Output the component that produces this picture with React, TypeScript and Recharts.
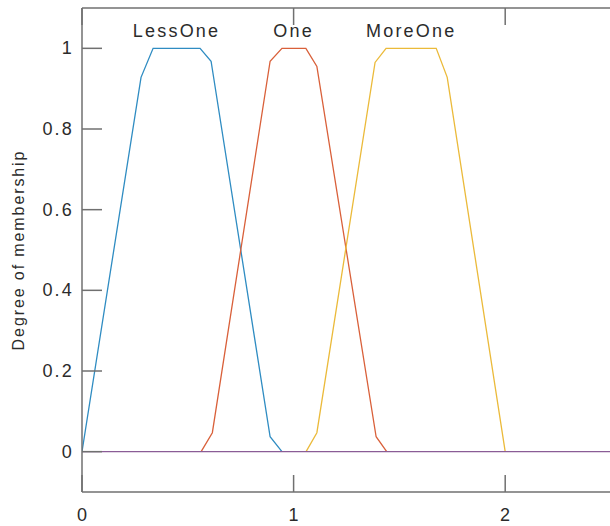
import React from 'react';
import { LineChart, Line, XAxis, YAxis, ReferenceDot } from 'recharts';

// membership function break points (x, degree)
const lessOneX = [0, 0.279, 0.336, 0.558, 0.61, 0.889, 0.945];
const lessOneY = [0, 0.928, 1, 1, 0.968, 0.037, 0];

const oneX = [0.563, 0.616, 0.889, 0.945, 1.058, 1.11, 1.39, 1.44];
const oneY = [0, 0.047, 0.968, 1, 1, 0.955, 0.037, 0];

const moreOneX = [1.059, 1.11, 1.385, 1.437, 1.674, 1.726, 2.0];
const moreOneY = [0, 0.047, 0.965, 1, 1, 0.928, 0];

const zeroX = [0, 2.5];
const zeroY = [0, 0];

const mfNames = ['LessOne', 'One', 'MoreOne'];
const mfPeakX = [0.447, 1.0, 1.556];
const mfLabelY = 1.044;

const xTicks = [0, 1, 2];
const yTicks = [0, 0.2, 0.4, 0.6, 0.8, 1];

const AXIS = '#707070';
const TEXT = '#2b2b2b';
const FONT = '"Liberation Sans", Arial, sans-serif';

const toPoints = (xs: number[], ys: number[]) => xs.map((x, i) => ({ x, y: ys[i] }));

const series = [
  { name: 'LessOne', data: toPoints(lessOneX, lessOneY), color: '#2f8cc2' },
  { name: 'One', data: toPoints(oneX, oneY), color: '#d9603a' },
  { name: 'MoreOne', data: toPoints(moreOneX, moreOneY), color: '#ebba3a' },
  { name: 'zero', data: toPoints(zeroX, zeroY), color: '#8a5c96' },
];

function BottomTick({ x, y, payload }: any) {
  return (
    <g>
      <line x1={x} y1={y} x2={x} y2={y - 17} stroke={AXIS} strokeWidth={1.5} />
      <text x={x + 1} y={y + 29} textAnchor="middle" fontSize={18} fontFamily={FONT} fill={TEXT} letterSpacing={2.2}>
        {payload.value}
      </text>
    </g>
  );
}

function TopTick({ x, y }: any) {
  return <line x1={x} y1={y} x2={x} y2={y + 17} stroke={AXIS} strokeWidth={1.5} />;
}

function LeftTick({ x, y, payload }: any) {
  return (
    <g>
      <line x1={x} y1={y} x2={x + 20} y2={y} stroke={AXIS} strokeWidth={1.5} />
      <text x={x - 8} y={y + 6} textAnchor="end" fontSize={18} fontFamily={FONT} fill={TEXT} letterSpacing={2.2}>
        {payload.value}
      </text>
    </g>
  );
}

function YTitle({ viewBox }: any) {
  const cx = 23.5;
  const cy = viewBox.y + viewBox.height / 2;
  return (
    <text
      x={cx}
      y={cy}
      transform={`rotate(-90, ${cx}, ${cy})`}
      textAnchor="middle"
      fontSize={16}
      fontFamily={FONT}
      fill={TEXT}
      letterSpacing={1.9}
    >
      Degree of membership
    </text>
  );
}

const mfLabel = (text: string) => ({ viewBox }: any) => (
  <text x={viewBox.x} y={viewBox.y + 6} textAnchor="middle" fontSize={18} fontFamily={FONT} fill={TEXT} letterSpacing={2.2}>
    {text}
  </text>
);

export default function App() {
  return (
    <div style={{ position: 'fixed', left: 0, top: 0, width: 610, height: 526, overflow: 'hidden', background: '#fff' }}>
      <LineChart width={620} height={526} margin={{ top: 7, right: 9, left: 0, bottom: 0 }}>
        <XAxis
          dataKey="x"
          type="number"
          domain={[0, 2.5]}
          ticks={xTicks}
          height={34}
          tickSize={0}
          tickMargin={0}
          tickLine={false}
          axisLine={{ stroke: AXIS, strokeWidth: 1.5 }}
          tick={BottomTick}
          allowDataOverflow
        />
        <XAxis
          xAxisId="top"
          orientation="top"
          dataKey="x"
          type="number"
          domain={[0, 2.5]}
          ticks={xTicks}
          height={1}
          tickSize={0}
          tickMargin={0}
          tickLine={false}
          axisLine={{ stroke: AXIS, strokeWidth: 1.5 }}
          tick={TopTick}
          allowDataOverflow
        />
        <YAxis
          type="number"
          domain={[-0.1, 1.1]}
          ticks={yTicks}
          width={82}
          tickSize={0}
          tickMargin={0}
          tickLine={false}
          axisLine={{ stroke: AXIS, strokeWidth: 1.5 }}
          tick={LeftTick}
          allowDataOverflow
          label={{ content: YTitle }}
        />
        {series.map((s) => (
          <Line
            key={s.name}
            data={s.data}
            dataKey="y"
            type="linear"
            stroke={s.color}
            strokeWidth={1.3}
            dot={false}
            activeDot={false}
            isAnimationActive={false}
          />
        ))}
        {mfNames.map((name, i) => (
          <ReferenceDot
            key={name}
            x={mfPeakX[i]}
            y={mfLabelY}
            r={0}
            fill="none"
            stroke="none"
            label={{ content: mfLabel(name) }}
          />
        ))}
      </LineChart>
    </div>
  );
}
